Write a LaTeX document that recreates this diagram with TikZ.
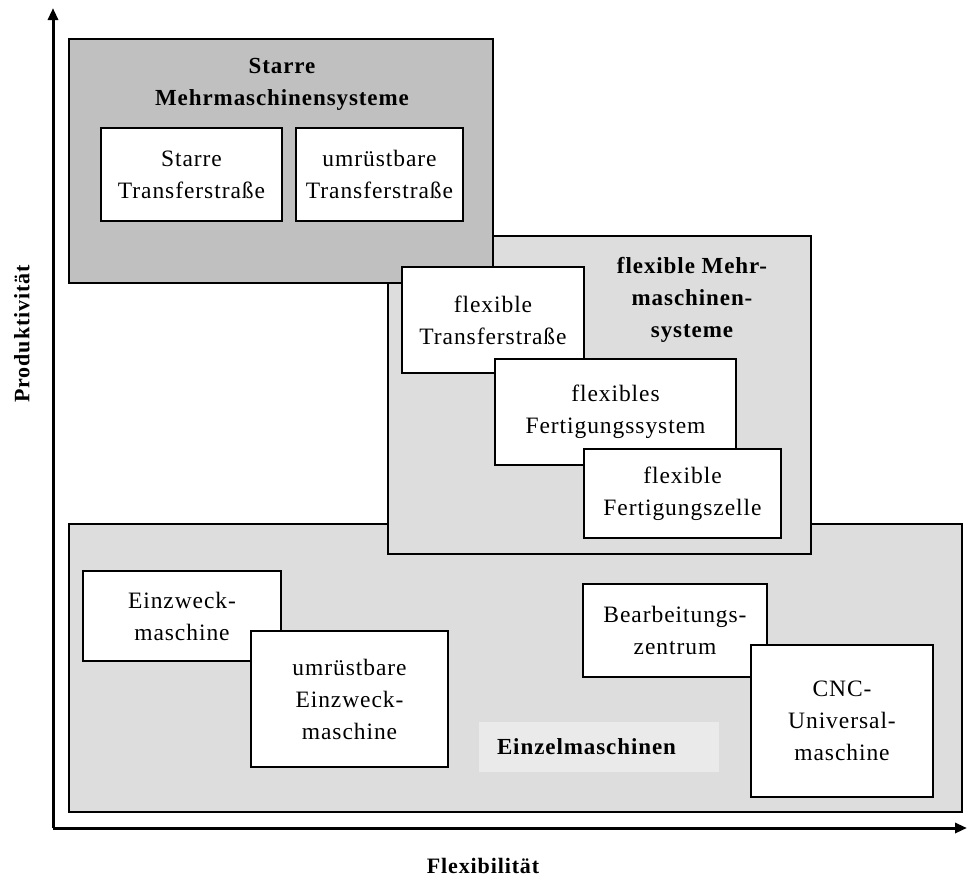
\documentclass[tikz,border=0pt]{standalone}
\usepackage{fontspec}
\setmainfont{Liberation Serif}[LetterSpace=4]
\usetikzlibrary{arrows.meta}
\definecolor{darkgroup}{HTML}{C0C0C0}
\definecolor{lightgroup}{HTML}{DDDDDD}
\definecolor{labelfill}{HTML}{EAEAEA}
\begin{document}
\begin{tikzpicture}[x=1pt,y=-1pt,
  group/.style={draw=black, line width=2pt, rectangle, inner sep=0pt},
  item/.style={draw=black, fill=white, line width=1.8pt, rectangle, inner sep=0pt,
    align=center, font=\fontsize{23.5}{32}\selectfont},
  grouptitle/.style={align=center, inner sep=0pt, font=\bfseries\fontsize{23}{32}\selectfont},
  axis/.style={line width=3pt, -{Triangle[length=12pt,width=10pt]}},
  axislabel/.style={inner sep=0pt, font=\bfseries\fontsize{22}{26}\selectfont}]
  \useasboundingbox (0,0) rectangle (967,879);

  % axes
  \coordinate (o) at (53,828);
  \coordinate (ytop) at (53,8);
  \coordinate (xend) at (967,828);
  \draw[axis] (o) -- (ytop);
  \draw[axis] (o) -- (xend);
  \node[axislabel] (xlab) at (483,866) {Flexibilität};
  \node[axislabel, rotate=90] (ylab) at (22,334) {Produktivität};

  % group areas
  \node[group, fill=lightgroup, minimum width=893pt, minimum height=288pt] (einzel) at (515.5,668) {};
  \node[group, fill=lightgroup, minimum width=423pt, minimum height=318pt] (flex) at (599.5,395) {};
  \node[group, fill=darkgroup, minimum width=424pt, minimum height=244pt] (starr) at (281,161) {};

  % group titles
  \node[grouptitle] (starrtitle) at (282,84) {Starre\\Mehrmaschinensysteme};
  \node[grouptitle] (flextitle) at (692,300) {flexible Mehr-\\maschinen-\\systeme};
  \node[fill=labelfill, inner ysep=0pt, inner xsep=18pt, minimum height=50pt,
    text width=204pt, align=left, font=\bfseries\fontsize{23}{32}\selectfont]
    (einzeltitle) at (599,747) {Einzelmaschinen};

  % rigid multi-machine systems
  \node[item, minimum width=181pt, minimum height=93pt] (st1) at (191.5,174.5) {Starre\\Transferstraße};
  \node[item, minimum width=167pt, minimum height=93pt] (st2) at (379.5,174.5) {umrüstbare\\Transferstraße};

  % flexible multi-machine systems
  \node[item, minimum width=182pt, minimum height=106pt] (fx1) at (493,320) {flexible\\Transferstraße};
  \node[item, minimum width=241pt, minimum height=106pt] (fx2) at (615.5,412) {flexibles\\Fertigungssystem};
  \node[item, minimum width=197pt, minimum height=89pt] (fx3) at (682.5,493.5) {flexible\\Fertigungszelle};

  % single machines
  \node[item, minimum width=198pt, minimum height=90pt] (e1) at (182,616) {Einzweck-\\maschine};
  \node[item, minimum width=197pt, minimum height=136pt] (e2) at (349.5,699) {umrüstbare\\Einzweck-\\maschine};
  \node[item, minimum width=184pt, minimum height=93pt] (e3) at (675,630.5) {Bearbeitungs-\\zentrum};
  \node[item, minimum width=182pt, minimum height=152pt] (e4) at (842,721) {CNC-\\Universal-\\maschine};
\end{tikzpicture}
\end{document}
